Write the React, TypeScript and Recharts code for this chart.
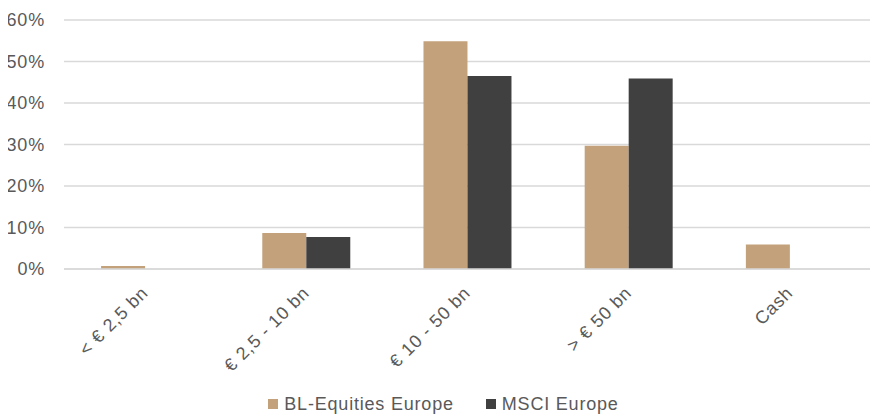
import { BarChart, Bar, XAxis, YAxis, CartesianGrid, Legend } from 'recharts';

const categories = ['< € 2,5 bn', '€ 2,5 - 10 bn', '€ 10 - 50 bn', '> € 50 bn', 'Cash'];
const blEquities = [0.7, 8.7, 54.9, 29.7, 5.9];
const msciEurope = [0, 7.7, 46.5, 45.9, 0];
const yTicks = [0, 10, 20, 30, 40, 50, 60];

const SERIES = [
  { key: 'bl', name: 'BL-Equities Europe', color: '#C3A27B' },
  { key: 'msci', name: 'MSCI Europe', color: '#404040' },
];

const FONT = '"Liberation Sans", Arial, sans-serif';
const TEXT_COLOR = '#595959';

const data = categories.map((c, i) => ({
  name: c,
  bl: blEquities[i],
  msci: msciEurope[i],
}));

const AngledTick = ({ x, y, payload }: { x?: number; y?: number; payload?: { value: string } }) => (
  <g transform={`translate(${(x ?? 0) + 4.5},${(y ?? 0) + 25})`}>
    <text
      transform="rotate(-45)"
      textAnchor="end"
      fontFamily={FONT}
      fontSize={18}
      letterSpacing={0.8}
      fill={TEXT_COLOR}
    >
      {payload?.value}
    </text>
  </g>
);

const LegendContent = () => (
  <div
    style={{
      display: 'flex',
      justifyContent: 'center',
      alignItems: 'center',
      height: 24,
      fontFamily: FONT,
      fontSize: 18,
      letterSpacing: 0.8,
      color: TEXT_COLOR,
    }}
  >
    {SERIES.map((s) => (
      <div key={s.key} style={{ display: 'flex', alignItems: 'center', margin: '0 16px' }}>
        <span style={{ width: 10, height: 10, background: s.color, marginRight: 6, display: 'inline-block' }} />
        <span>{s.name}</span>
      </div>
    ))}
  </div>
);

export default function App() {
  return (
    <BarChart
      width={871}
      height={408}
      data={data}
      margin={{ top: 12, right: 9, left: 0, bottom: 0 }}
      barCategoryGap="23%"
      barGap={0}
    >
      <CartesianGrid vertical={false} stroke="#d9d9d9" strokeWidth={1.3} />
      <XAxis
        dataKey="name"
        interval={0}
        height={123}
        tickLine={false}
        tickSize={0}
        tickMargin={0}
        axisLine={{ stroke: '#d9d9d9', strokeWidth: 1.3 }}
        tick={<AngledTick />}
      />
      <YAxis
        width={56}
        domain={[0, 60]}
        ticks={yTicks}
        interval={0}
        axisLine={false}
        tickLine={false}
        tickSize={0}
        tickMargin={19}
        tickFormatter={(v: number) => `${v}%`}
        tick={{ fontFamily: FONT, fontSize: 18, fill: TEXT_COLOR, letterSpacing: 0.8 }}
      />
      <Legend
        verticalAlign="bottom"
        content={<LegendContent />}
        wrapperStyle={{ left: 0, width: 871 }}
      />
      {SERIES.map((s) => (
        <Bar key={s.key} dataKey={s.key} name={s.name} fill={s.color} isAnimationActive={false} />
      ))}
    </BarChart>
  );
}
